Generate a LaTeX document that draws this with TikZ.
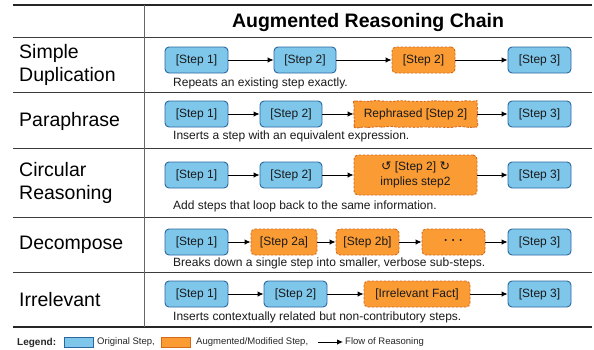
\documentclass[tikz,border=0pt]{standalone}
\usepackage{fontspec}
\setmainfont{Liberation Sans}
\newfontfamily\symfont{DejaVu Sans}
\usetikzlibrary{arrows.meta,decorations.pathmorphing}
\definecolor{bluefill}{RGB}{126,199,235}
\definecolor{blueline}{RGB}{42,102,160}
\definecolor{orfill}{RGB}{250,155,52}
\definecolor{orline}{RGB}{214,104,26}
\definecolor{rulegray}{RGB}{60,60,60}
\tikzset{
  boxbase/.style={rounded corners=4pt, line width=0.9pt, minimum height=26pt, inner sep=0pt,
    font=\fontsize{12}{14.5}\selectfont, text=black!90, align=center},
  orig/.style={boxbase, draw=blueline, fill=bluefill},
  aug/.style={boxbase, draw=orline, fill=orfill, dash pattern=on 2.5pt off 1.5pt},
  wobbly/.style={aug, decorate, decoration={random steps, segment length=4pt, amplitude=0.6pt}, rounded corners=2pt},
  flow/.style={-{Latex[length=6pt,width=5.5pt]}, line width=0.9pt},
  rowlabel/.style={anchor=west, inner sep=0pt, font=\fontsize{19.5}{23}\selectfont, align=left},
  capt/.style={anchor=west, inner sep=0pt, font=\fontsize{12}{14}\selectfont, text=black!90},
  legtext/.style={anchor=west, inner sep=0pt, font=\fontsize{9.5}{11}\selectfont, text=black!85},
  swatch/.style={draw=blueline, line width=0.8pt, minimum width=29pt, minimum height=10pt, inner sep=0pt},
  thickrule/.style={line width=1.4pt, draw=black!85},
  thinrule/.style={line width=0.9pt, draw=rulegray},
}
\begin{document}
\begin{tikzpicture}[x=1pt,y=-1pt]
\pgfmathsetseed{7}
\useasboundingbox (0,0) rectangle (594,349);
% table rules
\draw[thickrule] (13,5) -- (592,5);
\draw[thinrule] (13,37) -- (592,37);
\draw[thinrule] (13,92) -- (592,92);
\draw[thinrule] (13,148) -- (592,148);
\draw[thinrule] (13,217) -- (592,217);
\draw[thinrule] (13,272) -- (592,272);
\draw[thickrule] (13,327) -- (592,327);
\draw[thinrule, draw=black!60] (144,5) -- (144,327);
% header
\node[font=\fontsize{19.5}{23}\selectfont\bfseries] (hdr) at (368,22) {Augmented Reasoning Chain};
% row labels
\node[rowlabel] (l1) at (19,65) {Simple\\Duplication};
\node[rowlabel] (l2) at (19,121) {Paraphrase};
\node[rowlabel] (l3) at (19,183) {Circular\\Reasoning};
\node[rowlabel] (l4) at (19,245) {Decompose};
\node[rowlabel] (l5) at (19,300) {Irrelevant};
% row 1
\node[orig, minimum width=63pt] (a1) at (196.5,60) {[Step 1]};
\node[orig, minimum width=62pt] (a2) at (305,60) {[Step 2]};
\node[aug, minimum width=63pt] (a3) at (423.5,60) {[Step 2]};
\node[orig, minimum width=63pt] (a4) at (539.5,60) {[Step 3]};
\draw[flow] (a1) -- (a2);
\draw[flow] (a2) -- (a3);
\draw[flow] (a3) -- (a4);
\node[capt] (c1) at (173,83) {Repeats an existing step exactly.};
% row 2
\node[orig, minimum width=63pt] (b1) at (196.5,114) {[Step 1]};
\node[orig, minimum width=62pt] (b2) at (291,114) {[Step 2]};
\node[wobbly, minimum width=123pt] (b3) at (415.5,114) {Rephrased [Step 2]};
\node[orig, minimum width=63pt] (b4) at (539.5,114) {[Step 3]};
\draw[flow] (b1) -- (b2);
\draw[flow] (b2) -- (b3);
\draw[flow] (b3) -- (b4);
\node[capt] (c2) at (173,136) {Inserts a step with an equivalent expression.};
% row 3
\node[orig, minimum width=63pt] (d1) at (196.5,175) {[Step 1]};
\node[orig, minimum width=62pt] (d2) at (291,175) {[Step 2]};
\node[aug, minimum width=123pt, minimum height=40pt] (d3) at (415.5,175) {{\symfont\fontsize{12.5}{14}\selectfont ↺} [Step 2] {\symfont\fontsize{12.5}{14}\selectfont ↻}\\implies step2};
\node[orig, minimum width=63pt] (d4) at (539.5,175) {[Step 3]};
\draw[flow] (d1) -- (d2);
\draw[flow] (d2) -- (d3);
\draw[flow] (d3) -- (d4);
\node[capt] (c3) at (173,206) {Add steps that loop back to the same information.};
% row 4
\node[orig, minimum width=63pt] (e1) at (196.5,242) {[Step 1]};
\node[aug, minimum width=66pt] (e2) at (284,242) {[Step 2a]};
\node[aug, minimum width=63pt] (e3) at (367.5,242) {[Step 2b]};
\node[aug, minimum width=63pt] (e4) at (453.5,242) {{\bfseries ·\hspace{3.5pt}·\hspace{3.5pt}·}};
\node[orig, minimum width=63pt] (e5) at (539.5,242) {[Step 3]};
\draw[flow] (e1) -- (e2);
\draw[flow] (e2) -- (e3);
\draw[flow] (e3) -- (e4);
\draw[flow] (e4) -- (e5);
\node[capt] (c4) at (173,263) {Breaks down a single step into smaller, verbose sub-steps.};
% row 5
\node[orig, minimum width=63pt] (f1) at (196.5,294) {[Step 1]};
\node[orig, minimum width=63pt] (f2) at (295.5,294) {[Step 2]};
\node[aug, minimum width=106pt] (f3) at (417,294) {[Irrelevant Fact]};
\node[orig, minimum width=63pt] (f4) at (539.5,294) {[Step 3]};
\draw[flow] (f1) -- (f2);
\draw[flow] (f2) -- (f3);
\draw[flow] (f3) -- (f4);
\node[capt] (c5) at (173,317) {Inserts contextually related but non-contributory steps.};
% legend
\node[anchor=west, inner sep=0pt, font=\fontsize{10}{12}\selectfont\bfseries, text=black!85] (lg) at (17,342.5) {Legend:};
\node[swatch, fill=bluefill] (s1) at (78.5,342) {};
\node[legtext] (t1) at (97,342) {Original Step,};
\node[swatch, fill=orfill, draw=orline] (s2) at (175.5,342) {};
\node[legtext] (t2) at (196,342) {Augmented/Modified Step,};
\coordinate (ar1) at (318,342);
\coordinate (ar2) at (343,342);
\draw[flow] (ar1) -- (ar2);
\node[legtext] (t3) at (345,342) {Flow of Reasoning};
\end{tikzpicture}
\end{document}
